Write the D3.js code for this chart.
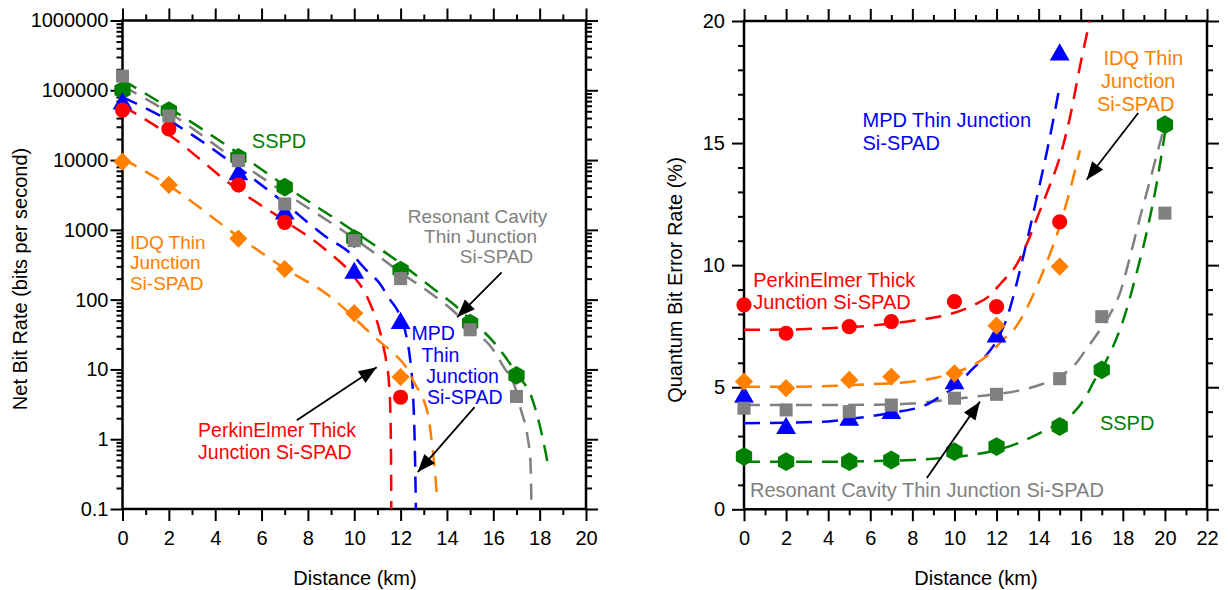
<!DOCTYPE html>
<html>
<head>
<meta charset="utf-8">
<script src="https://cdn.jsdelivr.net/npm/d3@7"></script>
<style>
body{margin:0;background:#fff}
svg{display:block}
text{font-family:"Liberation Sans",Arial,Helvetica,sans-serif}
</style>
</head>
<body>
<svg id="chart" width="1228" height="590"></svg>
<script>
// ---------- data (distance km, value) ----------
// left: net bit rate, bits per second
let nbrSSPD=[[0,100000],[2,51000],[5,10900],[7,4100],[10,750],[12,265],[15,46],[17,8.2]];
let nbrRCE =[[0,160000],[2,43000],[5,9800],[7,2350],[10,700],[12,200],[15,37],[17,4.1]];
let nbrMPD =[[0,64000],[5,6200],[7,1700],[10,240],[12,46]];
let nbrPE  =[[0,52000],[2,28000],[5,4400],[7,1280],[12,4]];
let nbrIDQ =[[0,9500],[2,4400],[5,750],[7,275],[10,64],[12,7.8]];

// model curves
let fitNbrSSPD=[[0,140000],[2,56000],[5,12500],[7,4300],[10,950],[12,330],[13.5,136],[14.25,88],[15,52],[16,25],[16.4,17],[17,8.8],[17.7,3.6],[18,1.6],[18.15,0.97],[18.35,0.45]];
let fitNbrRCE =[[0,115000],[2,48000],[5,9500],[7,3400],[10,750],[11.1,410],[11.7,290],[13.5,110],[14.25,70],[15,40],[16,19],[16.4,11.5],[17,4.8],[17.2,2.6],[17.4,1.5],[17.5,0.97],[17.6,0.5],[17.65,0.1]];
let fitNbrMPD =[[0,80000],[2,37000],[5,7800],[7,2400],[8.66,850],[10,410],[10.45,280],[11.1,170],[11.5,105],[12,56],[12.25,30],[12.4,15],[12.5,7],[12.55,3.5],[12.6,1.2],[12.63,0.4],[12.66,0.1]];
let fitNbrPE  =[[0,60000],[2,23000],[5,3700],[7,1350],[8.7,540],[10,210],[10.5,120],[10.75,78],[11,47],[11.25,22],[11.4,12],[11.5,6.3],[11.55,3],[11.58,1],[11.6,0.1]];
let fitNbrIDQ =[[0,10500],[2,4300],[5,800],[7,280],[9,108],[10,55],[10.5,38],[11.1,25],[11.7,17],[12.3,10],[12.6,6.3],[13,3.6],[13.2,2.1],[13.4,0.63],[13.5,0.3],[13.57,0.14]];

// right: quantum bit error rate, %
let qberSSPD=[[0,2.16],[2,1.95],[5,1.95],[7,2.02],[10,2.36],[12,2.57],[15,3.39],[17,5.71],[20,15.75]];
let qberRCE =[[0,4.14],[2,4.07],[5,4.0],[7,4.27],[10,4.55],[12,4.71],[15,5.35],[17,7.89],[20,12.13]];
let qberMPD =[[0,4.6],[2,3.32],[5,3.66],[7,3.93],[10,5.15],[12,7.07],[15,18.62]];
let qberPE  =[[0,8.37],[2,7.21],[5,7.48],[7,7.69],[10,8.51],[12,8.3],[15,11.77]];
let qberIDQ =[[0,5.23],[2,4.96],[5,5.3],[7,5.43],[10,5.57],[12,7.52],[15,9.94]];

let fitQberSSPD=[[0,1.95],[4,1.95],[6,1.97],[8,2.02],[10,2.15],[11,2.25],[12,2.42],[13,2.7],[14,3.1],[15,3.55],[15.65,3.95],[16.3,4.7],[16.6,5.2],[17,5.75],[17.5,6.6],[18,7.7],[18.6,9.5],[19.2,11.6],[19.6,13.3],[20,15.4]];
let fitQberRCE =[[0,4.27],[4,4.27],[6,4.28],[8,4.33],[9,4.42],[10,4.52],[11,4.62],[12,4.72],[13,4.85],[14,5.08],[15,5.45],[15.7,5.9],[16.3,6.6],[16.8,7.2],[17.3,7.85],[17.9,8.95],[18.3,10.2],[18.8,11.9],[19.3,13.5],[19.7,14.8],[20,15.75]];
let fitQberMPD =[[0,3.52],[2,3.55],[4,3.6],[5,3.7],[7,3.95],[8.7,4.3],[9.5,4.72],[10.1,5.05],[10.8,5.7],[11.4,6.2],[12,6.9],[12.5,7.85],[13,9.4],[13.5,11.2],[14,13.1],[14.5,15.1],[14.95,17.1]];
let fitQberPE  =[[0,7.35],[2,7.36],[4,7.42],[6,7.52],[8,7.72],[10,8.05],[11,8.4],[11.6,8.7],[12.25,9.3],[12.9,9.95],[13.5,11.0],[14,12.1],[14.5,13.2],[15,14.4],[15.5,16.1],[16,18.3],[16.43,20]];
let fitQberIDQ =[[0,5.02],[2,5.02],[4,5.05],[6,5.12],[8,5.23],[9,5.37],[10,5.6],[10.9,5.91],[11.6,6.32],[12.3,6.94],[12.9,7.45],[13.4,8.17],[14,9.3],[14.6,10.6],[15,11.6],[15.5,13.1],[15.96,14.7]];

// ticks and labels
let xTicksL=[0,2,4,6,8,10,12,14,16,18,20];
let xTicksR=[0,2,4,6,8,10,12,14,16,18,20,22];
let yTicksL=[0.1,1,10,100,1000,10000,100000,1000000];
let yTicksR=[0,5,10,15,20];
let yTitleL="Net Bit Rate (bits per second)";
let yTitleR="Quantum Bit Error Rate (%)";
let xTitle="Distance (km)";

// ---------- styles ----------
let cGreen="#008000",cGray="#808080",cBlue="#0000ff",cRed="#ff0000",cOrange="#ff8000";

let svg=d3.select("#chart");

let xL=d3.scaleLinear().domain([0,20]).range([122.5,586]);
let yL=d3.scaleLog().domain([0.1,1e6]).range([509,20.5]);
let xR=d3.scaleLinear().domain([0,22]).range([744,1207]);
let yR=d3.scaleLinear().domain([0,20]).range([509.3,21]);

let hexagon={draw:function(ctx,size){
  let r=Math.sqrt(size/(1.5*Math.sqrt(3)));
  for(let i=0;i<6;i++){
    let a=Math.PI/3*i-Math.PI/2;
    if(i==0) ctx.moveTo(r*Math.cos(a),r*Math.sin(a)); else ctx.lineTo(r*Math.cos(a),r*Math.sin(a));
  }
  ctx.closePath();
}};

let defs=svg.append("defs");
defs.append("marker").attr("id","head")
  .attr("markerUnits","userSpaceOnUse")
  .attr("viewBox","-19 -8 20 16")
  .attr("markerWidth",20).attr("markerHeight",16)
  .attr("refX",0).attr("refY",0).attr("orient","auto")
  .append("path").attr("d","M0,0L-18,-7L-18,7Z").attr("fill","#000");

function panel(x,y,xt,yt,minX,minY,yFmt,ypad,clipId){
  let g=svg.append("g");
  let x0=x.range()[0],x1=x.range()[1],y0=y.range()[0],y1=y.range()[1];
  defs.append("clipPath").attr("id",clipId).append("rect")
    .attr("x",x0).attr("y",y1).attr("width",x1-x0).attr("height",y0-y1);

  function ax(gen,vals,size,fmt,pad,tr){
    let a=gen.tickValues(vals).tickSize(size).tickSizeOuter(0).tickPadding(pad||0);
    a.tickFormat(fmt||"");
    let s=g.append("g").attr("transform",tr).call(a);
    s.select(".domain").remove();
    s.selectAll("line").attr("stroke","#000").attr("stroke-width",2);
    s.selectAll("text").attr("font-size",20).attr("fill","#000")
      .style("font-family",'"Liberation Sans",Arial,sans-serif');
    return s;
  }
  ax(d3.axisBottom(x),xt,12,d3.format("d"),10,"translate(0,"+y0+")");
  ax(d3.axisBottom(x),minX,6,null,0,"translate(0,"+y0+")");
  ax(d3.axisTop(x),xt,12,null,0,"translate(0,"+y1+")");
  ax(d3.axisTop(x),minX,6,null,0,"translate(0,"+y1+")");
  ax(d3.axisLeft(y),yt,12,yFmt,ypad,"translate("+x0+",0)");
  ax(d3.axisLeft(y),minY,6,null,0,"translate("+x0+",0)");
  ax(d3.axisRight(y),yt,12,null,0,"translate("+x1+",0)");
  ax(d3.axisRight(y),minY,6,null,0,"translate("+x1+",0)");
  g.append("rect").attr("x",x0).attr("y",y1).attr("width",x1-x0).attr("height",y0-y1)
    .attr("fill","none").attr("stroke","#000").attr("stroke-width",2.5);
  return g;
}

let minXL=d3.range(1,20,2);
let minXR=d3.range(1,22,2);
let minYL=[];
[0.1,1,10,100,1000,10000,100000].forEach(function(d){
  for(let k=2;k<10;k++) minYL.push(d*k);
});
let minYR=d3.range(1,20).filter(function(d){return d%5!=0});

let gL=panel(xL,yL,xTicksL,yTicksL,minXL,minYL,function(d){return String(d)},2,"clipL");
let gR=panel(xR,yR,xTicksR,yTicksR,minXR,minYR,d3.format("d"),7,"clipR");

function fits(g,x,y,list,clip){
  let line=d3.line().x(function(d){return x(d[0])}).y(function(d){return y(d[1])}).curve(d3.curveMonotoneX);
  let lg=g.append("g").attr("clip-path","url(#"+clip+")");
  list.forEach(function(s){
    lg.append("path").datum(s[0]).attr("d",line)
      .attr("fill","none").attr("stroke",s[1]).attr("stroke-width",2.5)
      .attr("stroke-dasharray","16,10");
  });
}
function points(g,x,y,list){
  list.forEach(function(s){
    let sym=d3.symbol().type(s[2]).size(s[3]);
    g.append("g").selectAll("path").data(s[0]).enter().append("path")
      .attr("d",sym).attr("fill",s[1])
      .attr("transform",function(d){return "translate("+x(d[0])+","+y(d[1])+")"+(s[4]?" rotate("+s[4]+")":"")});
  });
}

fits(gL,xL,yL,[[fitNbrSSPD,cGreen],[fitNbrRCE,cGray],[fitNbrMPD,cBlue],[fitNbrPE,cRed],[fitNbrIDQ,cOrange]],"clipL");
points(gL,xL,yL,[
  [nbrSSPD,cGreen,hexagon,230],
  [nbrMPD,cBlue,d3.symbolTriangle,170],
  [nbrPE,cRed,d3.symbolCircle,180],
  [nbrRCE,cGray,d3.symbolSquare,170],
  [nbrIDQ,cOrange,d3.symbolSquare,165,45]
]);

fits(gR,xR,yR,[[fitQberSSPD,cGreen],[fitQberRCE,cGray],[fitQberMPD,cBlue],[fitQberPE,cRed],[fitQberIDQ,cOrange]],"clipR");
points(gR,xR,yR,[
  [qberSSPD,cGreen,hexagon,230],
  [qberMPD,cBlue,d3.symbolTriangle,170],
  [qberPE,cRed,d3.symbolCircle,180],
  [qberRCE,cGray,d3.symbolSquare,170],
  [qberIDQ,cOrange,d3.symbolSquare,165,45]
]);

// ---------- annotations ----------
function notes(g,x,y,list){
  list.forEach(function(n){
    let t=g.append("text").attr("fill",n.color).attr("font-size",n.size||20).attr("text-anchor",n.anchor);
    n.lines.forEach(function(s,i){
      t.append("tspan").attr("x",x(n.xs[i])).attr("y",y(n.y)+i*n.gap).text(s);
    });
  });
}
function arrows(g,x,y,list){
  list.forEach(function(a){
    g.append("line").attr("x1",x(a[0][0])).attr("y1",y(a[0][1]))
      .attr("x2",x(a[1][0])).attr("y2",y(a[1][1]))
      .attr("stroke","#000").attr("stroke-width",1.8).attr("marker-end","url(#head)");
  });
}

notes(gL,xL,yL,[
  {lines:["SSPD"],xs:[5.58],y:15100,gap:0,color:cGreen,anchor:"start"},
  {lines:["IDQ Thin","Junction","Si-SPAD"],xs:[0.32,0.32,0.32],y:540,gap:20.5,size:19,color:cOrange,anchor:"start"},
  {lines:["Resonant Cavity","Thin Junction","Si-SPAD"],xs:[15.32,15.45,16.14],y:1250,gap:20,size:19,color:cGray,anchor:"middle"},
  {lines:["MPD","Thin","Junction","Si-SPAD"],xs:[12.47,12.9,13.11,13.14],y:26.2,gap:21.3,size:19.5,color:cBlue,anchor:"start"},
  {lines:["PerkinElmer Thick","Junction Si-SPAD"],xs:[3.26,3.26],y:1.07,gap:21.5,size:19.5,color:cRed,anchor:"start"}
]);
arrows(gL,xL,yL,[
  [[16.36,246],[14.44,56]],
  [[15.19,2.88],[12.74,0.338]],
  [[7.52,1.876],[10.97,10.75]]
]);

notes(gR,xR,yR,[
  {lines:["MPD Thin Junction","Si-SPAD"],xs:[5.63,5.63],y:15.67,gap:23.3,color:cBlue,anchor:"start"},
  {lines:["IDQ Thin","Junction","Si-SPAD"],xs:[18.97,18.73,18.61],y:18.21,gap:23.3,color:cOrange,anchor:"middle"},
  {lines:["PerkinElmer Thick","Junction Si-SPAD"],xs:[0.44,0.44],y:9.12,gap:22.7,color:cRed,anchor:"start"},
  {lines:["SSPD"],xs:[16.91],y:3.25,gap:0,color:cGreen,anchor:"start"},
  {lines:["Resonant Cavity Thin Junction Si-SPAD"],xs:[0.285],y:0.52,gap:0,color:cGray,anchor:"start"}
]);
arrows(gR,xR,yR,[
  [[18.73,16.23],[16.28,13.5]],
  [[8.69,1.28],[11.21,4.41]]
]);

// ---------- axis titles ----------
svg.append("text").attr("x",355).attr("y",585).attr("text-anchor","middle").attr("font-size",20).text(xTitle);
svg.append("text").attr("x",976).attr("y",585).attr("text-anchor","middle").attr("font-size",20).text(xTitle);
svg.append("text").attr("transform","translate(27,279) rotate(-90)").attr("text-anchor","middle").attr("font-size",20).text(yTitleL);
svg.append("text").attr("transform","translate(682,280) rotate(-90)").attr("text-anchor","middle").attr("font-size",20).text(yTitleR);
</script>
</body>
</html>
